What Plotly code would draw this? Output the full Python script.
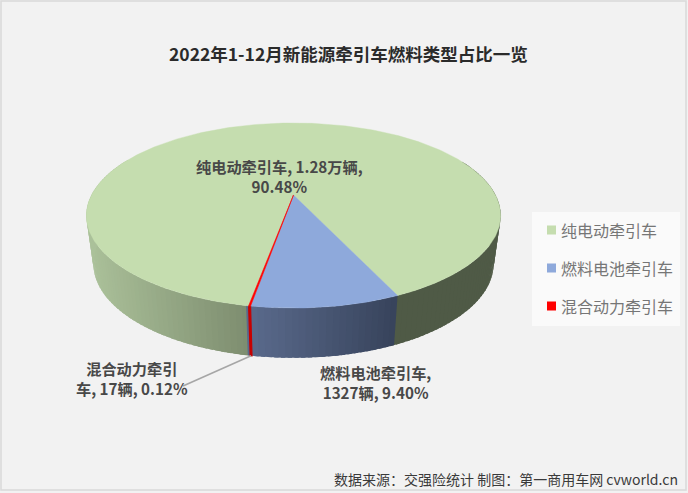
import math
import plotly.graph_objects as go

categories = ["纯电动牵引车", "燃料电池牵引车", "混合动力牵引车"]
shares = [90.48, 9.40, 0.12]
top_colors = ["#C5DDAF", "#8EA9DB", "#FF0000"]
label_texts = ["纯电动牵引车, 1.28万辆,<br>90.48%",
               "燃料电池牵引车,<br>1327辆, 9.40%",
               "混合动力牵引<br>车, 17辆, 0.12%"]
title_text = "2022年1-12月新能源牵引车燃料类型占比一览"
source_text = "数据来源：交强险统计 制图：第一商用车网 cvworld.cn"
first_slice_angle = 190

FONT = "Noto Sans CJK SC"
W, H = 688, 493
X0, Y0, A, K, P = 293.5, 195.0, 202.0, 88.0, 0.2216
SX, SY, Y0B = 0.966, 1.016, 243.0


def top_pt(phi):
    r = math.radians(phi)
    u, v = math.sin(r), -math.cos(r)
    d = 1 - P * v
    return X0 + A * u / d, Y0 + K * v / d


def bot_pt(phi):
    r = math.radians(phi)
    u, v = math.sin(r), -math.cos(r)
    d = 1 - P * v
    return X0 + A * SX * u / d, Y0B + K * SY * v / d


def lerp_hex(c1, c2, t):
    t = max(0, min(1, t))
    a = [int(c1[i:i + 2], 16) for i in (1, 3, 5)]
    b = [int(c2[i:i + 2], 16) for i in (1, 3, 5)]
    return "#%02X%02X%02X" % tuple(round(p + (q - p) * t) for p, q in zip(a, b))


def side_color(idx, x):
    if idx == 0:
        if x > X0:
            return "#4F5A46"
        return lerp_hex("#ABC19A", "#7D8D6F", (x - 87) / (249 - 87))
    if idx == 1:
        return lerp_hex("#5A6A8C", "#37435B", (x - 250) / (398 - 250))
    return "#C80000"


# slice angle ranges, clockwise from the far point of the disc
ranges = []
start = first_slice_angle
for s in shares:
    end = start + s * 3.6
    ranges.append((start, end))
    start = end

fig = go.Figure()

# visible side wall: overlapping opaque strips so no seams appear
for idx, (a0, a1) in enumerate(ranges):
    n = max(1, int((a1 - a0) / 1.5))
    for i in range(n):
        p0 = a0 + (a1 - a0) * i / n
        p1 = a0 + (a1 - a0) * (i + 1) / n
        mid = ((p0 + p1) / 2) % 360
        if not 65 < mid < 295:
            continue
        col = side_color(idx, (top_pt(p0)[0] + top_pt(p1)[0]) / 2)
        p2 = p1 + 1.0 if idx < 2 else p1
        t0, t1, b0, b1 = top_pt(p0), top_pt(p2), bot_pt(p0), bot_pt(p2)
        fig.add_trace(go.Scatter(
            x=[t0[0], t1[0], b1[0], b0[0], t0[0]],
            y=[t0[1], t1[1], b1[1], b0[1], t0[1]],
            mode="lines", fill="toself", fillcolor=col,
            line=dict(color=col, width=1.2 if idx == 2 else 0),
            hoverinfo="skip", showlegend=False))

# top face
for idx, (a0, a1) in enumerate(ranges):
    n = max(2, int((a1 - a0) / 1))
    pts = [top_pt(a0 + (a1 - a0) * i / n) for i in range(n + 1)]
    xs = [X0] + [p[0] for p in pts] + [X0]
    ys = [Y0] + [p[1] for p in pts] + [Y0]
    fig.add_trace(go.Scatter(
        x=xs, y=ys, mode="lines", fill="toself", fillcolor=top_colors[idx],
        line=dict(color=top_colors[idx], width=0.6 if idx == 2 else 0.4),
        name=categories[idx], text=label_texts[idx], hoverinfo="name",
        showlegend=False))

# leader line from the smallest slice to its label
lead = bot_pt(sum(ranges[2]) / 2)
fig.add_trace(go.Scatter(x=[lead[0], 183], y=[lead[1], 386], mode="lines",
                         line=dict(color="#A6A6A6", width=1.5),
                         hoverinfo="skip", showlegend=False))

# key
key_rows = [230, 268, 306]
for name, col, y in zip(categories, top_colors, key_rows):
    fig.add_trace(go.Scatter(
        x=[551.5], y=[y], mode="markers",
        marker=dict(symbol="square", size=9, color=col),
        name=name, hoverinfo="name", showlegend=False))

label_pos = [(279, 176), (375, 382), (132, 378)]
annotations = [
    dict(x=x, y=y, text=t, showarrow=False, xref="x", yref="y",
         align="center", font=dict(family=FONT, size=15.2, color="#484848"))
    for (x, y), t in zip(label_pos, ["<b>%s</b>" % s.replace("<br>", "</b><br><b>") for s in label_texts])
]
for name, y in zip(categories, key_rows):
    annotations.append(dict(x=558.5, y=y, xref="x", yref="y", showarrow=False,
                            xanchor="left", text=name,
                            font=dict(family=FONT, size=16, color="#767676")))
annotations.append(dict(x=348, y=53, xref="x", yref="y", showarrow=False,
                        text="<b>%s</b>" % title_text,
                        font=dict(family=FONT, size=17.5, color="#2B2B2B")))
annotations.append(dict(x=680, y=479, xref="x", yref="y", showarrow=False,
                        xanchor="right", text=source_text,
                        font=dict(family=FONT, size=14, color="#3A3A3A")))

fig.update_layout(
    width=W, height=H, margin=dict(l=0, r=0, t=0, b=0),
    paper_bgcolor="#F2F2F2", plot_bgcolor="#F2F2F2",
    xaxis=dict(range=[0, W], visible=False, fixedrange=True),
    yaxis=dict(range=[H, 0], visible=False, fixedrange=True),
    showlegend=False, annotations=annotations,
    shapes=[
        dict(type="rect", xref="x", yref="y", x0=1, y0=1, x1=686, y1=490,
             line=dict(color="#D9D9D9", width=1.5), layer="below"),
        dict(type="rect", xref="x", yref="y", x0=532, y0=212, x1=680, y1=326,
             line=dict(width=0), fillcolor="#FAFAFA", layer="below"),
    ],
)

fig.write_html("out.html", config={"displayModeBar": False},
               post_script="document.body.style.margin='0';document.body.style.overflow='hidden';")
